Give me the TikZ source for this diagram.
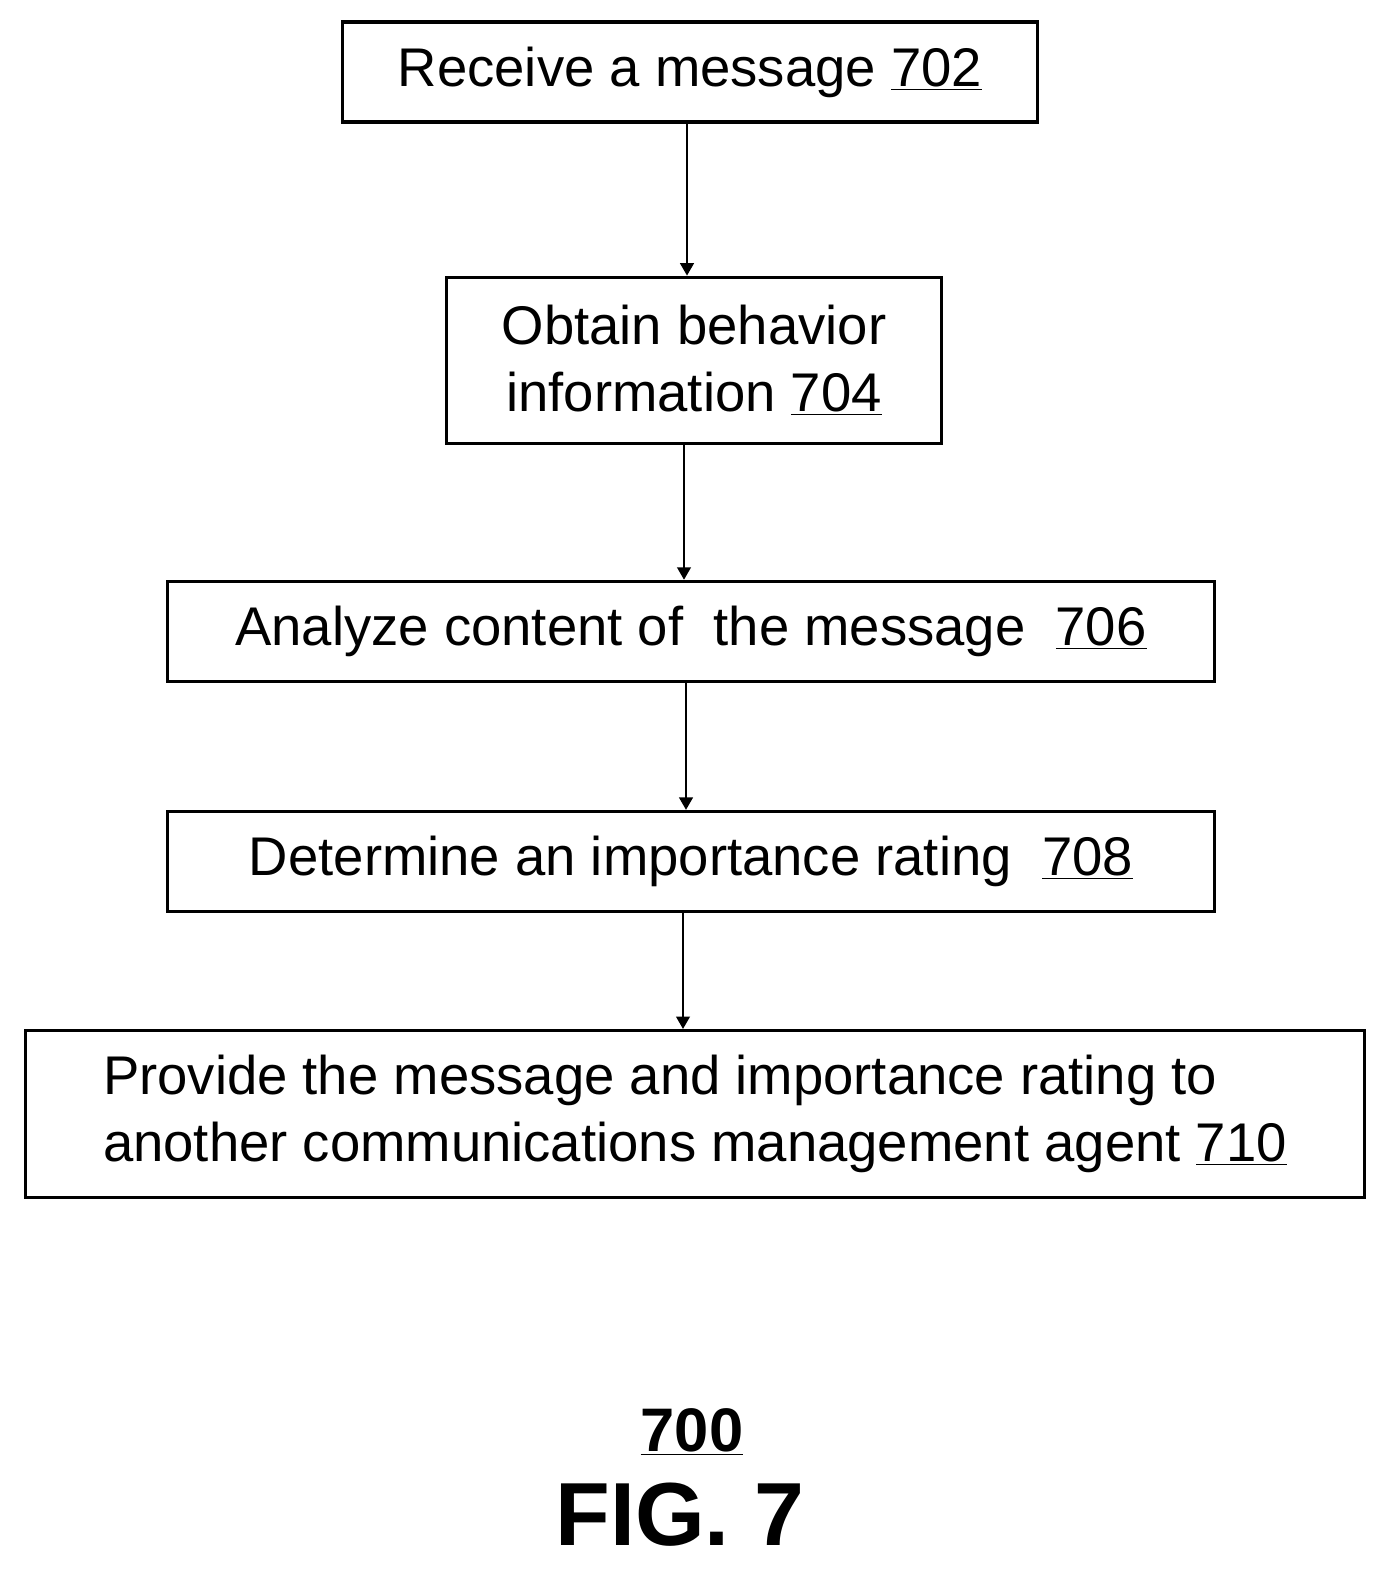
\documentclass[tikz,border=0pt]{standalone}
\usepackage{fontspec}
\setmainfont{Liberation Sans}
\usetikzlibrary{arrows,positioning}

\begin{document}
\begin{tikzpicture}[x=0.02cm, y=-0.02cm, node distance=2.5cm, >=triangle 60]
                    % Define styles
                    \tikzset{stage/.style={rectangle, draw, line width=1.8pt, font=\fontsize{31}{38}\selectfont, inner sep=0pt, minimum height=2cm}}
                    \tikzset{line/.style={draw, ->, line width=0.9pt}}
                    \useasboundingbox (0,0) rectangle (1391,1585);

                    % Nodes
                    \node [stage, minimum width=13.9cm] (receive) at (690,72) {Receive a message \underline{702}};
                    \node [stage, minimum width=9.9cm, minimum height=3.32cm, align=center, below=3.04cm of receive.south, anchor=north, xshift=0.08cm] (obtain) {Obtain behavior\\information \underline{704}};
                    \node [stage, minimum width=20.95cm, below=2.7cm of obtain.south, anchor=north, xshift=-0.06cm] (analyze) {Analyze content of~ the message~ \underline{706}};
                    \node [stage, minimum width=20.95cm, below=2.54cm of analyze.south, anchor=north] (rating) {Determine an importance rating~ \underline{708}};
                    \node [stage, minimum width=26.8cm, minimum height=3.34cm, align=left, below=2.32cm of rating.south, anchor=north, xshift=0.08cm] (provide) {Provide the message and importance rating to\\another communications management agent \underline{710}};
                    \node [font=\fontsize{35}{40}\selectfont\bfseries] (num) at (692,1432) {\underline{700}};
                    \node [font=\fontsize{51}{60}\selectfont\bfseries] (fig) at (680,1515) {FIG. 7};

                    % Arrows
                    \draw [line] ([xshift=-0.06cm]receive.south) -- ([xshift=-0.06cm]receive.south |- obtain.north);
                    \draw [line] ([xshift=-0.2cm]obtain.south) -- ([xshift=-0.2cm]obtain.south |- analyze.north);
                    \draw [line] ([xshift=-0.1cm]analyze.south) -- ([xshift=-0.1cm]analyze.south |- rating.north);
                    \draw [line] ([xshift=-0.16cm]rating.south) -- ([xshift=-0.16cm]rating.south |- provide.north);
                \end{tikzpicture}
\end{document}
